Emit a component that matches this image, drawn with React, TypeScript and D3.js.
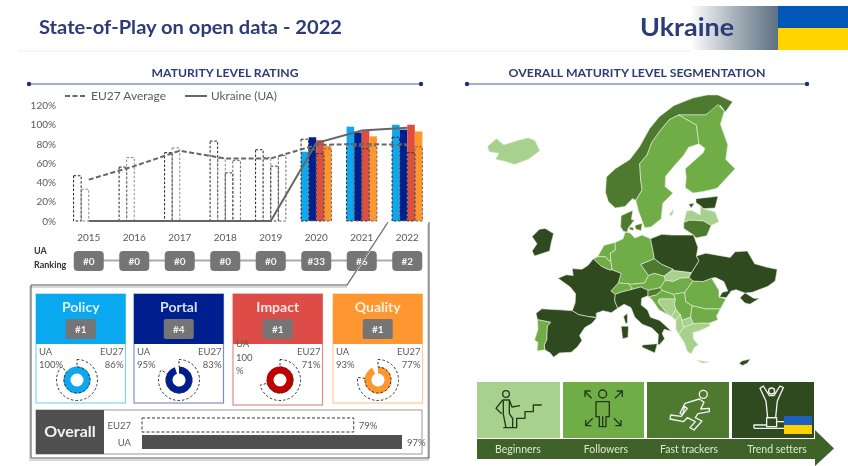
import React from "react";
import * as d3 from "d3";

const years = ["2015", "2016", "2017", "2018", "2019", "2020", "2021", "2022"];
const rankings = ["#0", "#0", "#0", "#0", "#0", "#33", "#6", "#2"];
const yTicks = [0, 20, 40, 60, 80, 100, 120];
const euAverage = [43, 57, 73, 65, 65, 79, 80, 79];
const uaOverall = [0, 0, 0, 0, 0, 81, 94, 97];
const dimensions = ["Policy", "Portal", "Impact", "Quality"];
const dimensionRanks = ["#1", "#4", "#1", "#1"];
const dimensionUA = [100, 95, 100, 93];
const dimensionEU = [86, 83, 71, 77];
const barColors = ["#0FA8EE", "#001F8E", "#DF4F3F", "#FF9630"];
const donutColors = ["#0FA8EE", "#001F8E", "#C00000", "#FF9630"];
const headerColors = ["#0AA8EE", "#001F8E", "#DE4C48", "#FF9630"];
const borderColors = ["#7FD3F7", "#7F8FC6", "#E58A88", "#FFCB98"];
const uaPolicy = [0, 0, 0, 0, 0, 72, 98, 100];
const uaPortal = [0, 0, 0, 0, 0, 87, 92, 95];
const uaImpact = [0, 0, 0, 0, 0, 84, 94, 100];
const uaQuality = [0, 0, 0, 0, 0, 78, 88, 93];
const euPolicy = [47, 56, 71, 83, 74, 85, 80, 87];
const euPortal = [33, 66, 76, 65, 66, 74, 78, 80];
const euImpact = [0, 0, 0, 50, 57, 70, 75, 71];
const euQuality = [0, 0, 0, 63, 68, 75, 78, 77];
const overallEU = 79;
const overallUA = 97;
const stages = ["Beginners", "Followers", "Fast trackers", "Trend setters"];
const stageColors = ["#A9D18E", "#70AD47", "#4E7A30", "#2F4A1E"];

const C1 = "#A9D18E", C2 = "#70AD47", C3 = "#4E7A30", C4 = "#2F4A1E";
type Ring = number[][];
const france: Ring = [[-1.8,43.4],[-1.2,44.6],[-1.1,46],[-2.2,47],[-4.7,48.3],[-3,48.8],[-1.6,48.7],[-1.8,49.7],[0.2,49.6],[1.5,50.2],[2.5,51.1],[4.2,50],[5.8,49.5],[6.4,49.5],[8.2,49],[7.6,47.6],[6.1,46.4],[7,45.9],[6.9,44.9],[7.5,43.8],[6.2,43.1],[4.5,43.4],[3.1,43],[3.2,42.4],[1.5,42.5],[-0.5,42.8]];
const spain: Ring = [[-1.8,43.4],[-0.5,42.8],[1.5,42.5],[3.2,42.3],[2.2,41.4],[0.8,40.8],[-0.3,39.5],[0.2,38.7],[-0.7,37.7],[-2,36.8],[-4.4,36.7],[-5.6,36],[-6.3,36.7],[-7.4,37.2],[-7.5,38],[-7,38.9],[-7,39.7],[-6.9,41],[-6.2,41.6],[-8.1,41.9],[-8.9,42],[-9.2,43],[-8,43.7],[-5.8,43.6],[-3.5,43.5]];
const portugal: Ring = [[-8.9,42],[-8.1,41.9],[-6.2,41.6],[-6.9,41],[-7,39.7],[-7,38.9],[-7.5,38],[-7.4,37.2],[-9,37],[-8.8,38.4],[-9.5,38.8],[-8.8,40.5]];
const italy: Ring = [[7.5,43.8],[6.9,44.9],[7,45.9],[8.5,46.3],[10.2,46.6],[12.2,47],[13.7,46.5],[13.7,45.7],[12.4,45.3],[12.3,44.3],[13.6,43.5],[14.2,42.4],[16.1,41.9],[18.5,40.2],[17,40.5],[16.6,39.8],[17.1,39],[16,38],[15.7,38.1],[15.8,39.7],[14.5,40.7],[12.5,41.3],[11,42.4],[10.2,43.9],[8.8,44.4]];
const sicily: Ring = [[12.5,38],[15.6,38.2],[15.1,36.7],[12.5,37.6]];
const sardinia: Ring = [[8.2,41],[9.7,41],[9.6,39.2],[8.5,39]];
const corsica: Ring = [[8.7,42.5],[9.5,43],[9.5,41.5],[9.1,41.4]];
const germany: Ring = [[7,53.4],[8.6,53.9],[9,54.8],[10,54.7],[11,54],[12.5,54.4],[14.2,53.9],[14.6,52.6],[15,51.1],[12.2,50.3],[13.8,48.7],[13,47.6],[10.2,47.4],[7.6,47.6],[8.2,49],[6.4,49.5],[6.1,50.8],[6,51.9],[7,52.3]];
const netherlands: Ring = [[3.4,51.4],[4.7,53],[7,53.4],[7,52.3],[6,51.9],[6.1,50.8],[5.7,50.8],[5,51.4]];
const belgium: Ring = [[2.5,51.1],[3.4,51.4],[5,51.4],[5.7,50.8],[6.1,50.8],[6.4,49.5],[5.8,49.5],[4.2,50]];
const switzerland: Ring = [[6.1,46.4],[7.6,47.6],[9.6,47.5],[10.4,46.9],[10.2,46.6],[8.5,46.3],[7,45.9]];
const austria: Ring = [[9.6,47.5],[10.2,47.4],[13,47.6],[13.8,48.7],[15,49],[17,48.6],[17.2,48],[16.2,46.9],[13.7,46.5],[12.2,47],[10.2,46.6],[10.4,46.9]];
const czechia: Ring = [[12.2,50.3],[15,51.1],[16.5,50.3],[18.8,49.6],[17,48.6],[15,49],[13.8,48.7]];
const poland: Ring = [[14.2,53.9],[16.5,54.5],[18.6,54.4],[19.5,54.4],[23,54.4],[23.9,52.7],[23.6,51.5],[24.1,50.8],[22.6,49.1],[19,49.4],[18.8,49.6],[16.5,50.3],[15,51.1],[14.6,52.6]];
const slovakia: Ring = [[17,48.6],[18.8,49.6],[19,49.4],[22.6,49.1],[22.1,48.4],[20.3,48.3],[18.8,47.8],[17.2,48]];
const hungary: Ring = [[17.2,48],[18.8,47.8],[20.3,48.3],[22.1,48.4],[22.9,47.9],[21.2,46.2],[18.9,45.9],[16.5,46.5],[16.2,46.9]];
const slovenia: Ring = [[13.7,46.5],[16.2,46.9],[16.5,46.5],[15.4,45.8],[13.7,45.5]];
const croatia: Ring = [[13.7,45.5],[15.4,45.8],[16.5,46.5],[18.9,45.9],[19.3,45.2],[16,45.2],[15.8,44.7],[17.5,43.1],[18.5,42.5],[16,43.5],[14.9,44.7],[14.3,45.3]];
const bosnia: Ring = [[16,45.2],[19.3,45.2],[19.1,44.4],[19.4,43.6],[18.5,42.5],[17.5,43.1],[15.8,44.7]];
const serbia: Ring = [[18.9,45.9],[21.2,46.2],[21.4,44.8],[22.7,44.2],[22.4,42.4],[20.6,41.9],[20.3,42.8],[19.4,43.6],[19.1,44.4],[19.3,45.2]];
const montenegro: Ring = [[18.5,42.5],[19.4,43.6],[20.3,42.8],[19.4,41.9]];
const albania: Ring = [[19.4,41.9],[20.3,42.8],[20.6,41.9],[21,40.8],[20,39.7],[19.4,40.5]];
const macedonia: Ring = [[20.6,41.9],[22.4,42.4],[23,41.4],[21,40.8]];
const greece: Ring = [[21,40.8],[20,39.7],[21.1,38.4],[21.7,37],[22.5,36.5],[23.2,37.6],[24,38],[23,38.9],[22.9,40],[24,40.2],[26.3,41],[26.3,41.5],[24.5,41.5],[23,41.4]];
const crete: Ring = [[23.6,35.5],[26.3,35.2],[24.8,35]];
const bulgaria: Ring = [[22.4,42.4],[22.7,44.2],[25.5,43.7],[28.5,43.7],[27.7,42.6],[28,42],[26.3,41.5],[24.5,41.5],[23,41.4]];
const romania: Ring = [[21.2,46.2],[22.9,47.9],[24.9,47.8],[26.7,48.3],[28.2,46.5],[28.2,45.5],[29.6,45.2],[28.5,43.7],[25.5,43.7],[22.7,44.2],[21.4,44.8]];
const ukraine: Ring = [[24.1,50.8],[23.6,51.5],[25.5,51.9],[30.5,51.3],[31.5,52.1],[34,52.2],[35.5,50.4],[38,49.9],[40.1,49.6],[39.7,47.9],[38.2,47.1],[35,46.2],[33.6,46.1],[35.3,45.3],[36.5,45.3],[34.5,44.4],[33.5,44.6],[32.5,45.4],[33.5,46.1],[31.7,46.6],[30.7,46.4],[29.7,45.4],[28.3,45.5],[28.9,46.2],[30,46.4],[29.2,47.8],[27.5,48.4],[26.7,48.3],[24.9,47.8],[22.9,47.9],[22.1,48.4],[22.6,49.1]];
const jutland: Ring = [[8.1,55.5],[8.2,57],[10.6,57.7],[10.3,56.5],[10.9,56.4],[9.6,55.3],[9.5,54.8],[8.7,54.9]];
const zealand: Ring = [[11,55.7],[12.5,56],[12.3,55],[11.2,55.2]];
const funen: Ring = [[9.9,55.5],[10.8,55.4],[10.6,55],[9.9,55.2]];
const norway: Ring = [[5,60],[5.2,61.9],[7,62.9],[10,64],[12,65.5],[14,67.5],[16,68.8],[19,70],[23,70.8],[25.8,71.1],[28,71.1],[31,70.4],[29.5,69.3],[28.5,70],[25.5,69],[21,69],[20,69],[18.1,68.5],[16.5,67.5],[14.5,66],[13.5,64.5],[12,63.5],[12.2,61.5],[12.5,60.3],[11.2,59],[10.5,59.2],[9,58.2],[7,58],[5.6,58.8]];
const sweden: Ring = [[11.2,59],[12.5,60.3],[12.2,61.5],[12,63.5],[13.5,64.5],[14.5,66],[16.5,67.5],[18.1,68.5],[20,69],[23.6,67.9],[24.1,65.8],[22,65.4],[21,64.5],[19,63.2],[17.3,62],[17.2,60.7],[18.8,59.9],[16.7,58.6],[16.4,56.6],[14.3,55.5],[13,55.4],[12.5,56.3],[11.7,57.7]];
const finland: Ring = [[20,69],[21,69],[25.5,69],[28,70.1],[29.3,69.4],[28.5,68],[30,65.7],[29.6,64],[31.5,62.9],[27.8,60.5],[25,60.1],[22.9,59.9],[21.3,60.6],[21.5,61.8],[21.3,62.9],[25,64.8],[25.3,65.3],[24.1,65.8],[23.6,67.9]];
const estonia: Ring = [[23.5,59.2],[28,59.5],[27.4,58],[25,57.9],[24.4,58.3],[23.5,58.7]];
const saaremaa: Ring = [[22,58.5],[23.2,58.6],[22.5,58]];
const latvia: Ring = [[21,56.1],[21.6,57.6],[22.6,57.7],[24.4,57.1],[24.4,58.3],[25,57.9],[27.4,57.5],[28.2,56.2],[26.6,55.7],[25,56.3],[22.2,56.4]];
const lithuania: Ring = [[21,56.1],[22.2,56.4],[25,56.3],[26.6,55.7],[25.7,54.3],[23.5,54],[23,54.4],[21,55.3]];
const ireland: Ring = [[-10,54.2],[-8.5,55.2],[-7.3,55.3],[-5.6,54.6],[-6.1,53.3],[-6.4,52.2],[-9.5,51.5],[-10,52.2],[-9,53.2]];
const iceland: Ring = [[-19.1,65.5],[-17.3,66.4],[-15.8,65.7],[-12.8,66.2],[-10.8,66.5],[-9.4,66.2],[-8.4,65],[-10.8,64],[-13.6,63.4],[-15.8,63.8],[-17.5,64],[-16.8,64.7],[-18.8,64.9]];
const cyprus: Ring = [[32.3,35],[33,35.4],[34.6,35.7],[34,35],[33,34.6]];
const gotland: Ring = [[18.1,57.2],[19,57.9],[18.8,57.3],[18.3,56.9]];

const countries: [Ring, string][] = [
  [iceland, C1], [norway, C3], [sweden, C2], [finland, C2], [gotland, C1], [estonia, C4], [saaremaa, C4], [latvia, C1], [lithuania, C3],
  [jutland, C3], [zealand, C3], [funen, C3], [ireland, C4], [netherlands, C2], [belgium, C2], [germany, C2], [poland, C4], [czechia, C3],
  [slovakia, C1], [austria, C2], [switzerland, C2], [france, C4], [spain, C4], [portugal, C2], [italy, C4], [sicily, C4], [sardinia, C4], [corsica, C4],
  [hungary, C2], [slovenia, C3], [croatia, C2], [bosnia, C1], [serbia, C2], [montenegro, C1], [albania, C1], [macedonia, C1], [greece, C1], [crete, C1],
  [bulgaria, C2], [romania, C2], [ukraine, C4], [cyprus, C4],
];

const millerRaw = (l: number, p: number): [number, number] => [0.96 * l, 1.045 * 1.25 * Math.log(Math.tan(Math.PI / 4 + 0.4 * p))];
const projection = d3.geoProjection(millerRaw as any).scale(292).translate([581, 557.5]);
const ringLine = d3.line().curve(d3.curveLinearClosed);
const ringPath = (r: Ring) => ringLine(r.map((p) => projection(p as [number, number]) as [number, number])) as string;

const x = d3.scaleBand().domain(years).range([66, 430]).paddingInner(1 / 3).paddingOuter(1 / 6);
const seriesKeys = [0, 1, 2, 3].map(String);
const xInner = d3.scaleBand().domain(seriesKeys).range([0, x.bandwidth()]);
const y = d3.scaleLinear().domain([0, 120]).range([221, 105.5]);
const center = (yr: string) => (x(yr) as number) + x.bandwidth() / 2;
const lineGen = d3.line<number>().x((_, i) => center(years[i])).y((v) => y(v));
const barScale = d3.scaleLinear().domain([0, 100]).range([142, 410]);
const uaSeries = [uaPolicy, uaPortal, uaImpact, uaQuality];
const euSeries = [euPolicy, euPortal, euImpact, euQuality];
const euDashColors = ["#222", "#8a8a8a", "#333", "#666"];
const cardX = [36, 134, 233, 333];
const donutX = [77, 179, 280, 378];
const cardW = 89.5;
const donutArc = d3.arc();
const angle = d3.scaleLinear().domain([0, 100]).range([0, 2 * Math.PI]);

const font = "Lato, 'Open Sans', sans-serif";
const navy = "#2D3C78";
const grey = "#5a5a5a";

function SectionHead({ label, x1, x2, w }: { label: string; x1: number; x2: number; w: number }) {
  const c = (x1 + x2) / 2;
  return (
    <g>
      <text x={c} y={77} textAnchor="middle" fontSize={11.5} fontWeight={700} fill={navy} textLength={w} lengthAdjust="spacingAndGlyphs">{label}</text>
      <line x1={x1} x2={x2} y1={84} y2={84} stroke="#4A5FA5" strokeWidth={1.2} />
      <circle cx={x1} cy={84} r={2.2} fill="#1F2F7A" />
      <circle cx={x2} cy={84} r={2.2} fill="#1F2F7A" />
    </g>
  );
}

function Icons() {
  return (
    <g transform="translate(470,375) scale(0.3333)" fill="none" strokeLinejoin="round">
      <g stroke="#23381A" strokeWidth={4}>
        <circle cx={108} cy={57} r={10} />
        <path d="M100,158 H140 V130 H165 V110 H190 V90 H215" />
        <path d="M98,75 H118 L126,96 L150,92 M98,75 L78,100 L95,116 M100,78 V118 L108,158 M118,78 V116 L128,130 V158" />
      </g>
      <g stroke="#23381A" strokeWidth={4}>
        <circle cx={398} cy={57} r={12} />
        <path d="M378,80 H418 V125 H408 V155 H398 V125 V155 H388 V125 H378 Z" />
        <path d="M365,70 L345,50 M345,66 V48 H362 M435,70 L455,50 M440,48 H457 V66 M368,130 L347,152 M347,135 V152 H364 M432,130 L453,152 M453,135 V152 H436" />
      </g>
      <g stroke="#F2F2F2" strokeWidth={4}>
        <circle cx={700} cy={58} r={12} />
        <path d="M630,115 L645,85 L688,72 L702,82 L692,102 L718,100 L718,110 L684,116 L676,128 L696,138 L672,165 L660,158 L676,140 L652,128 L640,140 L600,132 L602,120 L634,124 L652,100 L644,95 L638,118 Z" />
      </g>
      <g stroke="#F2F2F2" strokeWidth={4}>
        <circle cx={905} cy={48} r={9} />
        <path d="M870,40 L888,78 L893,128 H917 L922,78 L940,38 L930,33 L912,62 H898 L880,33 Z" />
        <path d="M890,128 H920 V155 H890 Z M852,160 V150 H890 M852,160 H945 M920,140 H945" />
      </g>
    </g>
  );
}

export default function App() {
  return (
    <svg width={848} height={466} viewBox="0 0 848 466" style={{ position: "absolute", left: 0, top: 0, filter: "blur(0.45px)", fontFamily: font }}>
      <defs>
        <linearGradient id="hdr" x1="0" x2="1" y1="0" y2="0">
          <stop offset="0" stopColor="#ffffff" />
          <stop offset="0.5" stopColor="#a9b2bb" />
          <stop offset="1" stopColor="#5e7083" />
        </linearGradient>
      </defs>
      <rect width={848} height={466} fill="#fff" />

      {/* header */}
      <rect x={690} y={6} width={88} height={44} fill="url(#hdr)" />
      <rect x={778} y={6} width={70} height={22} fill="#0057B7" />
      <rect x={778} y={28} width={70} height={22} fill="#FFD400" />
      <text x={39} y={34} fontSize={18} fontWeight={700} fill={navy} textLength={303} lengthAdjust="spacingAndGlyphs">State-of-Play on open data - 2022</text>
      <text x={640} y={36} fontSize={24} fontWeight={700} fill={navy} textLength={94} lengthAdjust="spacingAndGlyphs">Ukraine</text>
      <line x1={20} x2={690} y1={51} y2={51} stroke="#ddd" strokeWidth={1} strokeDasharray="1 1" />

      <SectionHead label="MATURITY LEVEL RATING" x1={29} x2={421} w={147} />
      <SectionHead label="OVERALL MATURITY LEVEL SEGMENTATION" x1={467} x2={807} w={257} />

      {/* legend */}
      <line x1={65} x2={87} y1={96} y2={96} stroke="#666" strokeWidth={2} strokeDasharray="5 2.5" />
      <text x={91} y={100} fontSize={10.5} fill={grey} textLength={75} lengthAdjust="spacingAndGlyphs">EU27 Average</text>
      <line x1={185} x2={207} y1={96} y2={96} stroke="#666" strokeWidth={2} />
      <text x={211} y={100} fontSize={10.5} fill={grey} textLength={66} lengthAdjust="spacingAndGlyphs">Ukraine (UA)</text>

      {/* y axis */}
      {yTicks.map((t) => (
        <text key={t} x={56} y={y(t) + 3.5} textAnchor="end" fontSize={10} fill={grey}>{t}%</text>
      ))}

      {/* bars */}
      {years.map((yr, i) => (
        <g key={yr} transform={`translate(${x(yr)},0)`}>
          {uaSeries.map((s, k) => s[i] > 0 && (
            <rect key={k} x={xInner(String(k))} y={y(s[i])} width={xInner.bandwidth()} height={y(0) - y(s[i])} fill={barColors[k]} />
          ))}
          {euSeries.map((s, k) => s[i] > 0 && (
            <rect key={k} x={xInner(String(k))} y={y(s[i])} width={xInner.bandwidth()} height={y(0) - y(s[i])} fill="none" stroke={euDashColors[k]} strokeWidth={1} strokeDasharray="2.5 1.8" />
          ))}
        </g>
      ))}

      {/* lines */}
      <path d={lineGen(euAverage) as string} fill="none" stroke="#666" strokeWidth={2} strokeDasharray="5 2.5" />
      <path d={lineGen(uaOverall) as string} fill="none" stroke="#666" strokeWidth={2} />

      {/* x labels */}
      {years.map((yr) => (
        <text key={yr} x={center(yr)} y={241} textAnchor="middle" fontSize={10} fill={grey}>{yr}</text>
      ))}

      {/* ranking */}
      <text x={34} y={254} fontSize={9} fontWeight={700} fill="#333">UA</text>
      <text x={34} y={268} fontSize={9} fontWeight={700} fill="#333">Ranking</text>
      <line x1={center(years[0])} x2={center(years[7])} y1={260.5} y2={260.5} stroke="#aaa" strokeWidth={2} />
      {years.map((yr, i) => (
        <g key={yr}>
          <rect x={center(yr) - 15} y={251} width={30} height={20} rx={4} fill="#757575" />
          <text x={center(yr)} y={264.5} textAnchor="middle" fontSize={10} fontWeight={700} fill="#f5f5f5">{rankings[i]}</text>
        </g>
      ))}

      {/* callout */}
      <path d="M388,222 L347,285 H31 V458 H429 V222" fill="none" stroke="#d9d9d9" strokeWidth={2} transform="translate(-1,2)" />
      <path d="M388,222 L347,285 H31 V458 H429 V222" fill="none" stroke="#555" strokeWidth={1} />

      {/* dimension cards */}
      {dimensions.map((d, i) => {
        const cx0 = cardX[i];
        const h = i === 2 ? 111 : 109;
        return (
          <g key={d}>
            <rect x={cx0} y={294} width={cardW} height={h} fill="#fff" stroke={borderColors[i]} strokeWidth={1.2} />
            <rect x={cx0} y={294} width={cardW} height={50} fill={headerColors[i]} />
            <text x={cx0 + cardW / 2} y={312} textAnchor="middle" fontSize={14} fontWeight={700} fill="#fff" opacity={0.85}>{d}</text>
            <rect x={cx0 + cardW / 2 - 15} y={319} width={30} height={20} rx={2} fill="#757575" />
            <text x={cx0 + cardW / 2} y={333} textAnchor="middle" fontSize={10} fontWeight={700} fill="#f2f2f2">{dimensionRanks[i]}</text>
            {i === 2 ? (
              <g fontSize={9.5} fill={grey}>
                <text x={cx0 + 3} y={347}>UA</text>
                <text x={cx0 + 3} y={361}>100</text>
                <text x={cx0 + 3} y={374}>%</text>
              </g>
            ) : (
              <g fontSize={9.5} fill={grey}>
                <text x={cx0 + 3} y={355}>UA</text>
                <text x={cx0 + 3} y={368}>{dimensionUA[i]}%</text>
              </g>
            )}
            <text x={cx0 + cardW - 2} y={355} textAnchor="end" fontSize={9.5} fill={grey}>EU27</text>
            <text x={cx0 + cardW - 2} y={368} textAnchor="end" fontSize={9.5} fill={grey}>{dimensionEU[i]}%</text>
            <g transform={`translate(${donutX[i]},380)`}>
              <path d={donutArc({ innerRadius: 6.5, outerRadius: 13.5, startAngle: 0, endAngle: angle(dimensionUA[i]) }) as string} fill={donutColors[i]} />
              <path d={donutArc({ innerRadius: 13, outerRadius: 20.5, startAngle: 0, endAngle: angle(dimensionEU[i]) }) as string} fill="none" stroke="#333" strokeWidth={1} strokeDasharray="2.5 2" />
            </g>
          </g>
        );
      })}

      {/* overall */}
      <rect x={36} y={410} width={386} height={44} fill="#fff" stroke="#999" strokeWidth={1} />
      <rect x={36} y={410} width={68} height={44} fill="#505050" />
      <text x={70} y={437} textAnchor="middle" fontSize={16} fontWeight={700} fill="#f2f2f2">Overall</text>
      <text x={131} y={429} textAnchor="end" fontSize={9.5} fill={grey}>EU27</text>
      <text x={131} y={446} textAnchor="end" fontSize={9.5} fill={grey}>UA</text>
      <rect x={barScale(0)} y={418} width={barScale(overallEU) - barScale(0)} height={14} fill="#fff" stroke="#333" strokeDasharray="3 2" />
      <rect x={barScale(0)} y={435} width={barScale(overallUA) - barScale(0)} height={14} fill="#505050" />
      <text x={barScale(overallEU) + 5} y={429} fontSize={9.5} fill={grey}>{overallEU}%</text>
      <text x={barScale(overallUA) + 5} y={446} fontSize={9.5} fill={grey}>{overallUA}%</text>

      {/* map */}
      <g stroke="#E8F0E0" strokeWidth={0.6} strokeLinejoin="round">
        {countries.map(([r, c], i) => (
          <path key={i} d={ringPath(r)} fill={c} />
        ))}
      </g>

      {/* segmentation */}
      <path d="M477,439 H815 V430 L834,448.5 L815,466 V459 H477 Z" fill="#3F6228" />
      {stages.map((s, i) => {
        const tx = [477, 563, 647, 732][i];
        const tw = [83, 81, 82, 82][i];
        return (
          <g key={s}>
            <rect x={tx} y={382} width={tw} height={56} fill={stageColors[i]} />
            <text x={[518, 606, 689, 777][i]} y={453} textAnchor="middle" fontSize={10.5} fill="#DDE8D2">{s}</text>
          </g>
        );
      })}
      <Icons />
      <rect x={784} y={416} width={28} height={9} fill="#1F5FBF" />
      <rect x={784} y={425} width={28} height={9} fill="#FFD000" />
    </svg>
  );
}
